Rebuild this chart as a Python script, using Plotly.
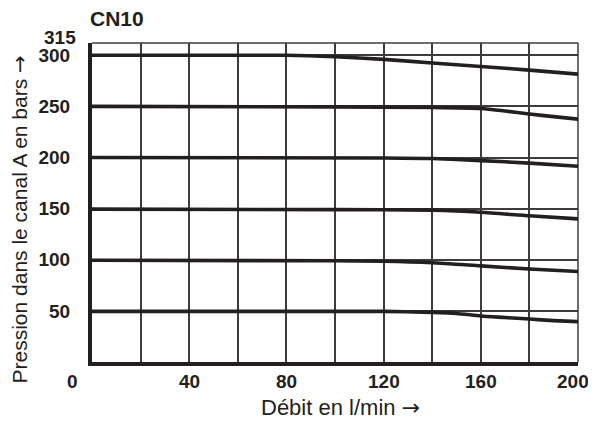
import plotly.graph_objects as go

# ---- data ----
flow_300 = [0, 60, 80, 100, 120, 140, 160, 180, 200]
pres_300 = [300, 300, 300, 298.5, 296, 292.5, 289, 285.5, 281.5]

flow_250 = [0, 100, 140, 160, 170, 180, 190, 200]
pres_250 = [250, 249.5, 249, 248, 245.5, 242.5, 240, 237.5]

flow_200 = [0, 120, 140, 160, 180, 200]
pres_200 = [200, 199.5, 199, 197, 194.5, 191.5]

flow_150 = [0, 100, 140, 160, 180, 200]
pres_150 = [149.5, 149, 148.5, 146.5, 143, 140]

flow_100 = [0, 100, 120, 140, 160, 180, 200]
pres_100 = [99.5, 99, 98.5, 97, 94, 91, 88.5]

flow_50 = [0, 120, 140, 150, 160, 170, 180, 190, 200]
pres_50 = [49.5, 49.5, 48.5, 47.5, 45, 43.5, 42, 40.5, 39.5]

x_tick_vals = [40, 80, 120, 160]
x_tick_text = ["40", "80", "120", "160"]
x_origin_label = "0"
x_end_val = 200
x_end_label = "200"
y_tick_vals = [50, 100, 150, 200, 250, 300]
y_tick_text = ["50", "100", "150", "200", "250", "300"]
y_top_label = "315"

title_text = "CN10"
x_title = "Débit en l/min"
y_title = "Pression dans le canal A en bars"
ARROW = '<span style="font-family:DejaVu Sans">→</span>'

series = [
    (flow_300, pres_300),
    (flow_250, pres_250),
    (flow_200, pres_200),
    (flow_150, pres_150),
    (flow_100, pres_100),
    (flow_50, pres_50),
]

INK = "#231f20"
GRID = "#3c3c3c"
FONT = "Liberation Sans, Arial, sans-serif"
NUM = dict(family=FONT, size=19, color=INK, weight="bold")

# the page body has an 8px margin: size the figure so the plot lands where the reference has it
OFF = 8

fig = go.Figure()
for fx, py in series:
    fig.add_trace(go.Scatter(
        x=fx, y=py, mode="lines",
        line=dict(color=INK, width=3.6, shape="spline", smoothing=0.6),
        showlegend=False, hoverinfo="skip",
    ))

fig.update_layout(
    width=596 - OFF, height=421 - OFF,
    margin=dict(l=92 - OFF, r=18, t=43 - OFF, b=59),
    paper_bgcolor="white", plot_bgcolor="white",
    font=dict(family=FONT, color=INK),
    showlegend=False,
)

fig.update_xaxes(
    range=[0, 200], dtick=20, tick0=0,
    showgrid=True, gridcolor=GRID, gridwidth=1.5,
    showticklabels=False, ticks="",
    showline=True, linecolor=INK, linewidth=4,
    zeroline=False,
)
fig.update_yaxes(
    range=[0, 312],
    tickmode="array", tickvals=y_tick_vals, ticktext=y_tick_text,
    showgrid=True, gridcolor=GRID, gridwidth=1.5,
    ticks="", ticklabelstandoff=14,
    tickfont=NUM,
    showline=True, linecolor=INK, linewidth=4,
    zeroline=False,
)

# thin frame on top and right
fig.add_shape(type="line", xref="paper", yref="paper", x0=0, x1=1, y0=1, y1=1,
              line=dict(color=GRID, width=1.5), layer="below")
fig.add_shape(type="line", xref="paper", yref="paper", x0=1, x1=1, y0=0, y1=1,
              line=dict(color=GRID, width=1.5), layer="below")

# x tick labels
for v, t in zip(x_tick_vals, x_tick_text):
    fig.add_annotation(x=v, y=0, xref="x", yref="paper", text=t, showarrow=False,
                       xanchor="center", yanchor="top", yshift=-7, font=NUM)
fig.add_annotation(x=0, y=0, xref="paper", yref="paper", text=x_origin_label, showarrow=False,
                   xanchor="center", yanchor="top", yshift=-7, xshift=-20, font=NUM)
fig.add_annotation(x=x_end_val, y=0, xref="x", yref="paper", text=x_end_label, showarrow=False,
                   xanchor="right", yanchor="top", yshift=-7, xshift=13, font=NUM)

# top y label (315)
fig.add_annotation(x=0, y=1, xref="paper", yref="paper", text=y_top_label,
                   showarrow=False, xanchor="right", yanchor="middle", xshift=-14, yshift=6,
                   font=NUM)

# chart title
fig.add_annotation(x=0, y=1, xref="paper", yref="paper", text=title_text,
                   showarrow=False, xanchor="left", yanchor="bottom", xshift=-4, yshift=11,
                   font=dict(family=FONT, size=21, color=INK, weight="bold"))

# axis titles
fig.add_annotation(x=0.5, y=0, xref="paper", yref="paper", text=x_title + " " + ARROW,
                   showarrow=False, xanchor="center", yanchor="top", yshift=-31, xshift=5,
                   font=dict(family=FONT, size=22, color=INK))
fig.add_annotation(x=0, y=0.5, xref="paper", yref="paper", text=y_title + " " + ARROW,
                   showarrow=False, textangle=-90, xanchor="center", yanchor="middle",
                   xshift=-73, yshift=-17,
                   font=dict(family=FONT, size=21, color=INK))

fig.write_html("out.html")
